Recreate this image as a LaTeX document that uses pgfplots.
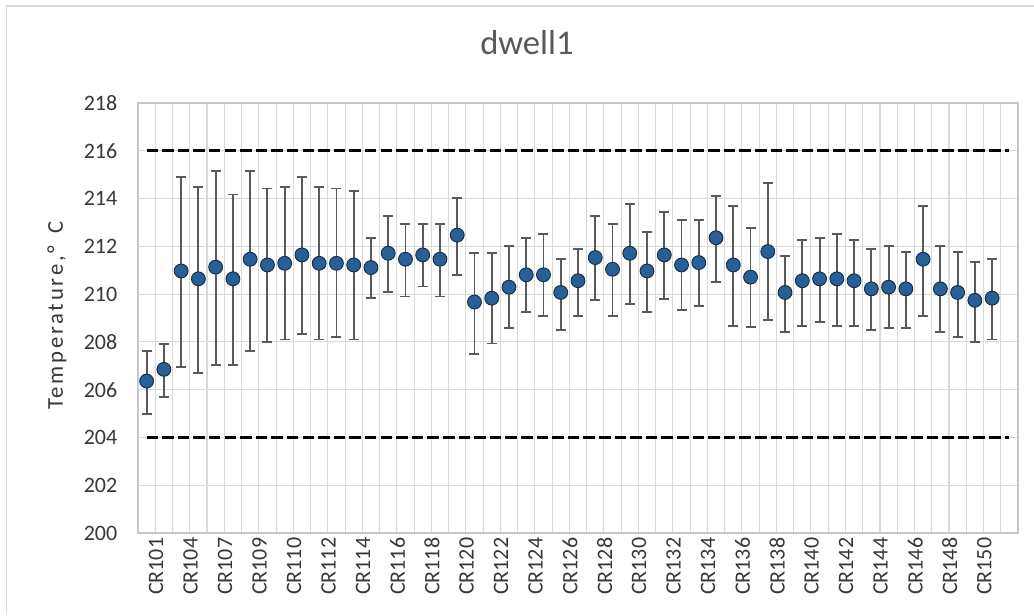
\documentclass[border=0pt]{standalone}
\usepackage{pgfplots}
\pgfplotsset{compat=1.18}
\usepackage{pgfplotstable}
\usepackage{fontspec}
\setmainfont{Carlito}
\definecolor{txt}{RGB}{89,89,89}
\definecolor{tick}{RGB}{55,55,55}
\definecolor{gridc}{RGB}{217,217,217}
\definecolor{axc}{RGB}{200,200,200}
\definecolor{mk}{RGB}{38,96,150}
\definecolor{mkd}{RGB}{25,45,70}
\definecolor{errc}{RGB}{89,89,89}
\pgfplotstableread{
x y hi lo
0 206.36 207.61 204.97
1 206.85 207.92 205.69
2 210.97 214.90 206.94
3 210.64 214.49 206.71
4 211.13 215.15 207.03
5 210.64 214.17 207.03
6 211.46 215.15 207.61
7 211.22 214.42 208.00
8 211.29 214.49 208.10
9 211.64 214.90 208.33
10 211.29 214.49 208.10
11 211.29 214.42 208.19
12 211.22 214.32 208.10
13 211.11 212.36 209.83
14 211.71 213.26 210.08
15 211.46 212.93 209.90
16 211.64 212.93 210.32
17 211.46 212.93 209.90
18 212.47 214.03 210.81
19 209.67 211.71 207.51
20 209.83 211.71 207.93
21 210.29 212.03 208.58
22 210.81 212.36 209.25
23 210.81 212.51 209.07
24 210.07 211.46 208.51
25 210.56 211.88 209.07
26 211.53 213.26 209.74
27 211.04 212.93 209.07
28 211.71 213.76 209.58
29 210.97 212.61 209.25
30 211.64 213.44 209.81
31 211.22 213.10 209.35
32 211.32 213.10 209.49
33 212.36 214.10 210.50
34 211.22 213.68 208.68
35 210.71 212.78 208.61
36 211.78 214.65 208.93
37 210.07 211.61 208.42
38 210.56 212.26 208.68
39 210.64 212.36 208.82
40 210.64 212.51 208.68
41 210.56 212.26 208.68
42 210.22 211.88 208.51
43 210.29 212.03 208.58
44 210.22 211.78 208.58
45 211.46 213.68 209.07
46 210.22 212.03 208.42
47 210.07 211.78 208.19
48 209.74 211.36 208.00
49 209.83 211.46 208.10
}\dwell
\begin{document}
\begin{tikzpicture}
\useasboundingbox (0,0) rectangle (775.5pt,461.25pt);
\draw[gridc, line width=0.8pt] (5pt,0) -- (5pt,456.75pt) -- (775.5pt,456.75pt);
\begin{axis}[
  at={(103.5pt,61.5pt)}, anchor=south west,
  scale only axis, width=660pt, height=322.5pt,
  xmin=-0.5, xmax=50.5, ymin=200, ymax=218,
  ytick={200,202,...,218},
  xtick={0,2,...,48},
  xticklabels={CR101,CR104,CR107,CR109,CR110,CR112,CR114,CR116,CR118,CR120,CR122,CR124,CR126,CR128,CR130,CR132,CR134,CR136,CR138,CR140,CR142,CR144,CR146,CR148,CR150},
  minor xtick={-0.5,0.5,...,50.5},
  xminorgrids=true, ymajorgrids=true,
  grid style={gridc, line width=0.8pt},
  minor grid style={gridc, line width=0.8pt},
  major tick length=0pt, minor tick length=0pt,
  axis line style={axc, line width=0.8pt},
  /pgf/number format/assume math mode=true,
  ticklabel style={font=\fontsize{16.5}{19}\selectfont, text=tick},
  yticklabel style={xshift=-12pt},
  xticklabel style={rotate=90, anchor=east, yshift=-7pt},
  ylabel={\addfontfeature{LetterSpace=12}Temperature,°\hspace{3pt} C},
  ylabel style={font=\fontsize{17}{20}\selectfont, text=tick, at={(axis description cs:-0.092,0.505)}, anchor=center},
  title={dwell1},
  title style={font=\fontsize{26}{30}\selectfont, text=txt, at={(axis description cs:0.442,1.0953)}, anchor=base},
  clip=false,
]
\addplot[black, line width=2.5pt, dash pattern=on 8.6pt off 3.1pt, forget plot] coordinates {(0,216) (50,216)};
\addplot[black, line width=2.5pt, dash pattern=on 8.6pt off 3.1pt, forget plot] coordinates {(0,204) (50,204)};
\addplot[only marks, mark=*, mark size=5.2pt,
  mark options={fill=mk, draw=mkd, line width=0.7pt},
  error bars/.cd, y dir=both, y explicit,
  error bar style={errc, line width=1.4pt},
  error mark options={rotate=90, mark size=3.75pt, errc, line width=1.4pt}]
  table[x=x, y=y, y error plus expr=\thisrow{hi}-\thisrow{y}, y error minus expr=\thisrow{y}-\thisrow{lo}] {\dwell};
\end{axis}
\end{tikzpicture}
\end{document}
